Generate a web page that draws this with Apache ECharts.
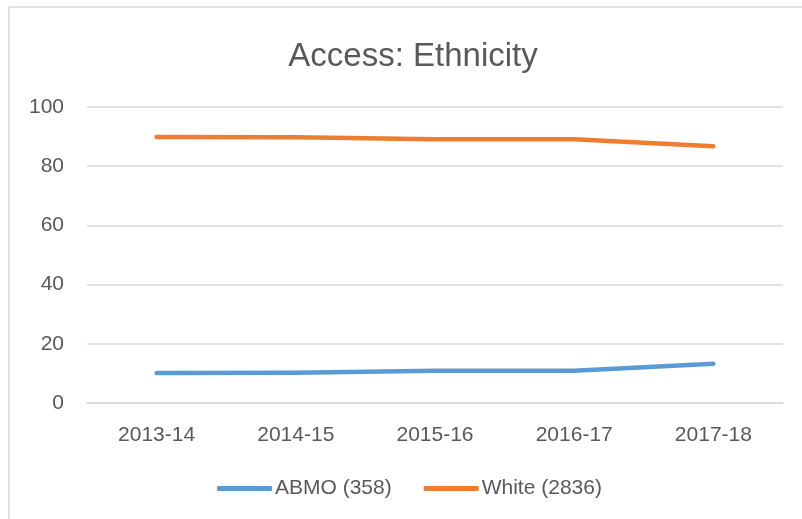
<!DOCTYPE html>
<html>
<head>
<meta charset="utf-8">
<script src="https://cdn.jsdelivr.net/npm/echarts@6/dist/echarts.min.js"></script>
<style>
  html, body { margin: 0; padding: 0; background: #fff; }
  #chart { width: 802px; height: 519px; }
</style>
</head>
<body>
<div id="chart"></div>
<script>
  // values
  const categories = ['2013-14', '2014-15', '2015-16', '2016-17', '2017-18']
  const abmo = [10.1, 10.2, 10.9, 10.9, 13.3]
  const white = [89.9, 89.8, 89.1, 89.1, 86.7]
  const yTicks = [0, 20, 40, 60, 80, 100]
  const seriesNames = ['ABMO (358)', 'White (2836)']

  const textColor = '#595959'
  const gridColor = '#d9d9d9'
  const font = '"Liberation Sans", Arial, sans-serif'

  const chart = echarts.init(document.getElementById('chart'))
  chart.setOption({
    animation: false,
    title: {
      text: 'Access: Ethnicity',
      left: 408,
      top: 35,
      textAlign: 'center',
      textStyle: { color: textColor, fontSize: 33, fontWeight: 'normal', fontFamily: font }
    },
    graphic: [{
      type: 'rect',
      shape: { x: 9, y: 7, width: 900, height: 600 },
      style: { fill: 'none', stroke: gridColor, lineWidth: 1.5 },
      silent: true
    }],
    legend: {
      data: seriesNames,
      left: 212,
      top: 473,
      icon: 'roundRect',
      itemWidth: 55,
      itemHeight: 5,
      itemGap: 32,
      textStyle: { color: textColor, fontSize: 21, fontFamily: font, padding: [0, 0, 0, -2] }
    },
    grid: {
      left: 87,
      right: 19,
      top: 107,
      bottom: 116
    },
    xAxis: {
      type: 'category',
      data: categories,
      boundaryGap: true,
      axisLine: { lineStyle: { color: gridColor, width: 1.5 } },
      axisTick: { show: false },
      axisLabel: { color: textColor, fontSize: 21, fontFamily: font, margin: 22 }
    },
    yAxis: {
      type: 'value',
      min: yTicks[0],
      max: yTicks[yTicks.length - 1],
      interval: yTicks[1] - yTicks[0],
      axisLine: { show: false },
      axisTick: { show: false },
      splitLine: { lineStyle: { color: gridColor, width: 1.5 } },
      axisLabel: { color: textColor, fontSize: 21, fontFamily: font, margin: 23 }
    },
    series: [
      {
        name: seriesNames[0],
        type: 'line',
        data: abmo,
        showSymbol: false,
        itemStyle: { color: '#5B9BD5' },
        lineStyle: { color: '#5B9BD5', width: 4.5, cap: 'round', join: 'round' }
      },
      {
        name: seriesNames[1],
        type: 'line',
        data: white,
        showSymbol: false,
        itemStyle: { color: '#ED7D31' },
        lineStyle: { color: '#ED7D31', width: 4.5, cap: 'round', join: 'round' }
      }
    ]
  })
</script>
</body>
</html>
